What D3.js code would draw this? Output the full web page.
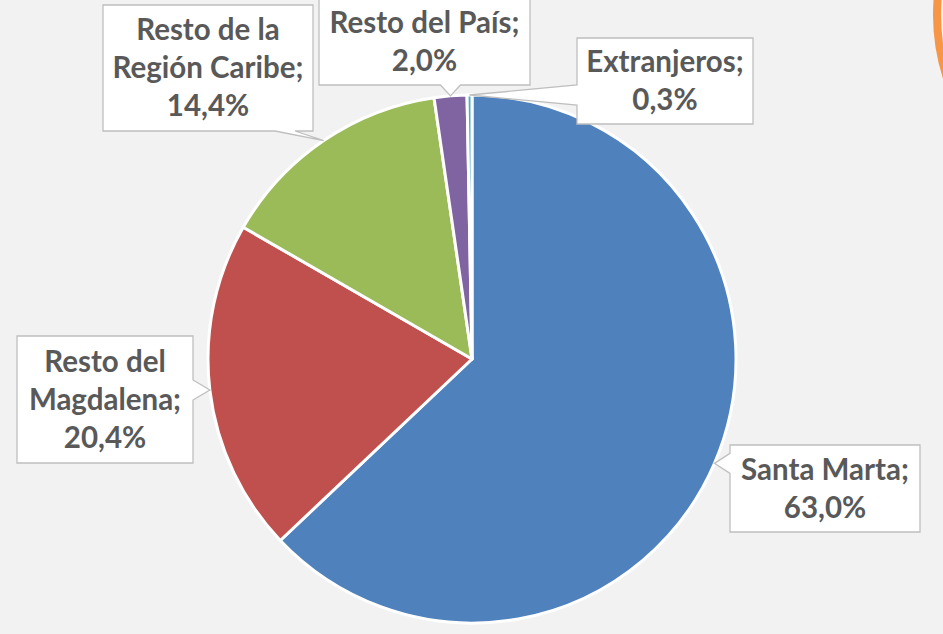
<!DOCTYPE html>
<html>
<head>
<meta charset="utf-8">
<script src="https://cdn.jsdelivr.net/npm/d3@7"></script>
<style>
  html, body { margin: 0; padding: 0; background: #f2f2f2; }
  svg { display: block; }
</style>
</head>
<body>
<div id="chart"></div>
<script>
// données du graphique
const categories = ["Santa Marta", "Resto del Magdalena", "Resto de la Región Caribe", "Resto del País", "Extranjeros"];
const values = [63.0, 20.4, 14.4, 2.0, 0.3];
const labelLines = [
  ["Santa Marta;", "63,0%"],
  ["Resto del", "Magdalena;", "20,4%"],
  ["Resto de la", "Región Caribe;", "14,4%"],
  ["Resto del País;", "2,0%"],
  ["Extranjeros;", "0,3%"]
];
const colors = ["#4f81bd", "#c0504d", "#9bbb59", "#8064a2", "#4bacc6"];

const width = 943;
const height = 634;
const cx = 472, cy = 359;
const radius = 264;

// boîtes des étiquettes (centre, largeur, hauteur)
const boxes = [
  {x: 825, y: 488.5, w: 190, h: 87},
  {x: 105, y: 399.5, w: 176, h: 127},
  {x: 208, y: 68, w: 210, h: 126},
  {x: 424.5, y: 42, w: 211, h: 86},
  {x: 665, y: 81, w: 176, h: 86}
];

const data = categories.map((c, i) => ({category: c, value: values[i], lines: labelLines[i], box: boxes[i]}));

const svg = d3.select("#chart").append("svg")
  .attr("width", width)
  .attr("height", height);

svg.append("rect")
  .attr("width", width)
  .attr("height", height)
  .attr("fill", "#f2f2f2");

// morceau de forme orange en haut à droite
svg.append("circle")
  .attr("cx", 1141)
  .attr("cy", 15)
  .attr("r", 204)
  .attr("fill", "none")
  .attr("stroke", "#f79646")
  .attr("stroke-width", 8);

const pie = d3.pie()
  .sort(null)
  .value(d => d.value);

const arcs = pie(data);

const arc = d3.arc()
  .innerRadius(0)
  .outerRadius(radius);

const edgeArc = d3.arc()
  .innerRadius(radius)
  .outerRadius(radius);

const g = svg.append("g")
  .attr("transform", `translate(${cx},${cy})`);

g.selectAll("path")
  .data(arcs)
  .enter().append("path")
  .attr("d", arc)
  .attr("fill", (d, i) => colors[i])
  .attr("stroke", "#fff")
  .attr("stroke-width", 3)
  .attr("stroke-linejoin", "round");

// bulle avec pointeur vers le bord de la part
function calloutPath(b, tip) {
  const x0 = b.x - b.w / 2, x1 = b.x + b.w / 2;
  const y0 = b.y - b.h / 2, y1 = b.y + b.h / 2;
  const half = 10, m = 8;
  const clamp = (v, lo, hi) => Math.max(lo, Math.min(hi, v));
  let side;
  if (tip[1] > y1) side = "bottom";
  else if (tip[1] < y0) side = "top";
  else if (tip[0] < x0) side = "left";
  else side = "right";
  const p = [];
  if (side === "bottom") {
    const c = clamp(tip[0], x0 + m + half, x1 - m - half - 10);
    p.push([x0, y0], [x1, y0], [x1, y1], [c + half, y1], tip, [c - half, y1], [x0, y1]);
  } else if (side === "top") {
    const c = clamp(tip[0], x0 + m + half, x1 - m - half);
    p.push([x0, y0], [c - half, y0], tip, [c + half, y0], [x1, y0], [x1, y1], [x0, y1]);
  } else if (side === "left") {
    const c = clamp(tip[1], y0 + m + half, y1 - m - half);
    p.push([x0, y0], [x1, y0], [x1, y1], [x0, y1], [x0, c + half], tip, [x0, c - half]);
  } else {
    const c = clamp(tip[1], y0 + m + half, y1 - m - half);
    p.push([x0, y0], [x1, y0], [x1, c - half], tip, [x1, c + half], [x1, y1], [x0, y1]);
  }
  return "M" + p.map(q => q.join(",")).join("L") + "Z";
}

const labels = svg.append("g")
  .selectAll("g")
  .data(arcs)
  .enter().append("g");

labels.append("path")
  .attr("d", d => {
    const c = edgeArc.centroid(d);
    return calloutPath(d.data.box, [cx + c[0], cy + c[1]]);
  })
  .attr("fill", "#fff")
  .attr("stroke", "#bfbfbf")
  .attr("stroke-width", 1.3);

const lineH = 38;
labels.each(function(d) {
  const n = d.data.lines.length;
  d3.select(this).selectAll("text")
    .data(d.data.lines)
    .enter().append("text")
    .attr("x", d.data.box.x)
    .attr("y", (t, i) => d.data.box.y + (i - (n - 1) / 2) * lineH + 10)
    .attr("text-anchor", "middle")
    .attr("font-family", "Lato, 'Open Sans', sans-serif")
    .attr("font-weight", "bold")
    .attr("font-size", 29.5)
    .attr("fill", "#595959")
    .text(t => t);
});
</script>
</body>
</html>
